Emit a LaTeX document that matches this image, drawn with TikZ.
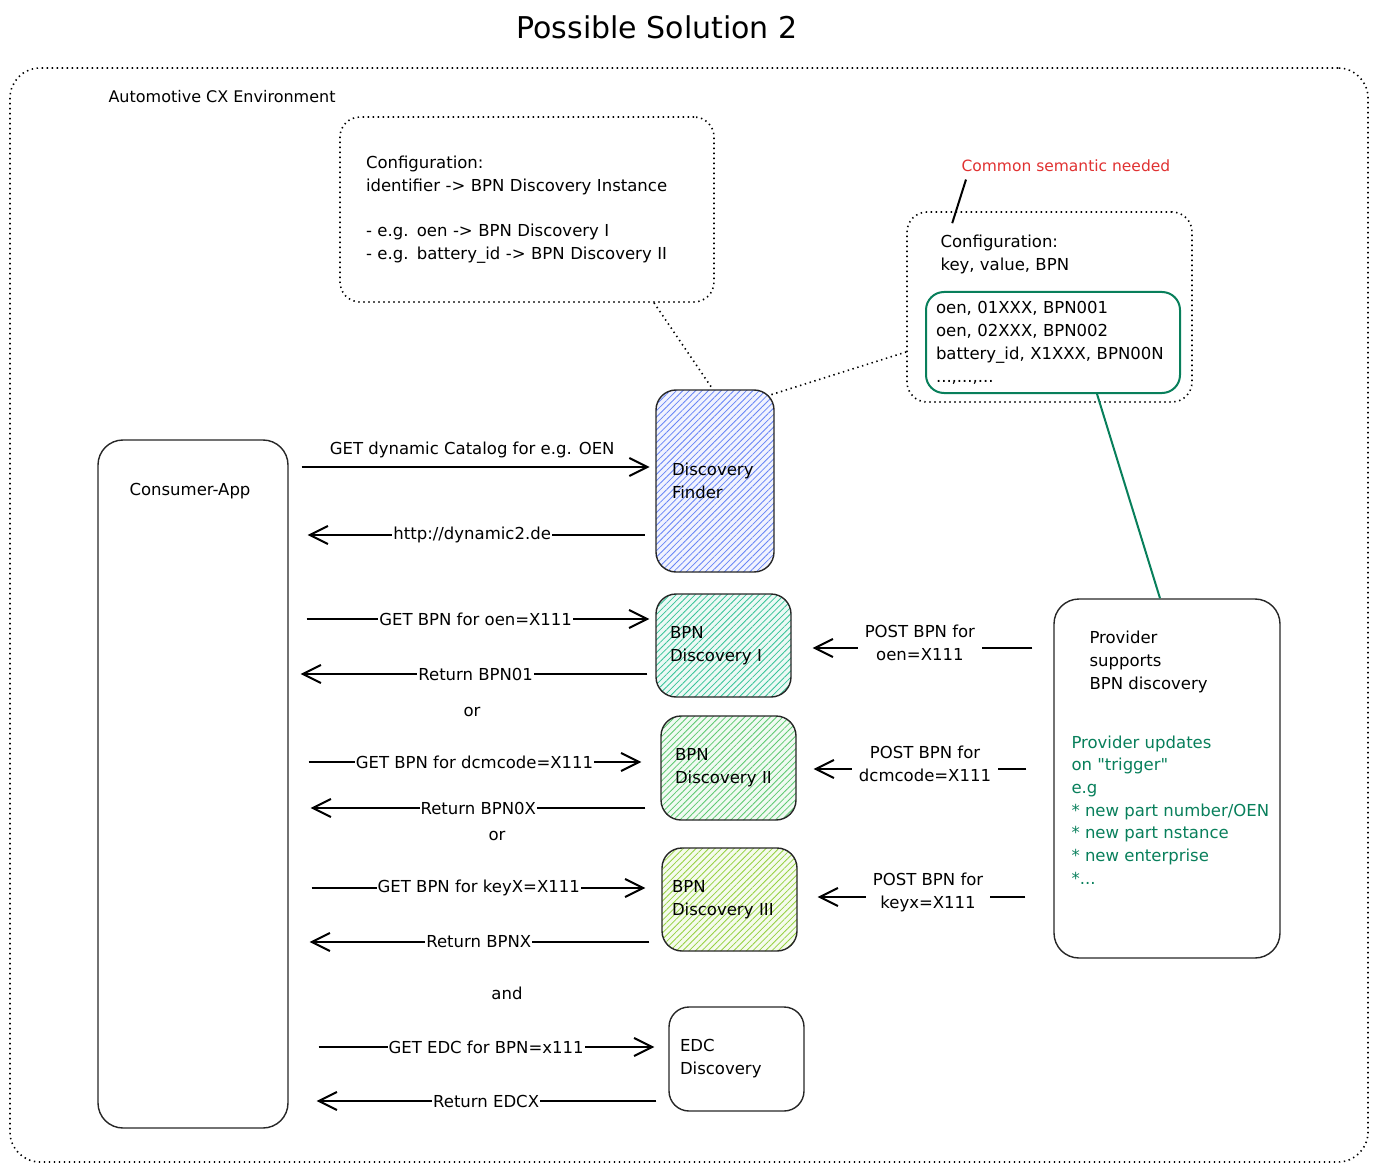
\documentclass[tikz,border=0pt]{standalone}
\usepackage{fontspec}
\setmainfont[Ligatures=TeXOff]{DejaVu Sans}
\usetikzlibrary{arrows.meta,patterns.meta,calc}

\definecolor{cxred}{HTML}{E03131}
\definecolor{cxgreen}{HTML}{087F5B}
\definecolor{hblue}{HTML}{4C6EF5}
\definecolor{hteal}{HTML}{12B886}
\definecolor{hgreen}{HTML}{40C057}
\definecolor{hlime}{HTML}{82C91E}

\begin{document}
\begin{tikzpicture}[x=1pt,y=-1pt,
  font=\fontsize{16.5}{23}\selectfont,
  box/.style={draw=black!85, line width=1.4pt, rounded corners=20pt, align=left, inner xsep=16pt, inner ysep=0pt},
  dotbox/.style={draw=black, line width=1.6pt, dash pattern=on 1.4pt off 3.6pt, rounded corners=25pt},
  dotline/.style={draw=black, line width=1.6pt, dash pattern=on 1.4pt off 3.6pt},
  arr/.style={line width=2pt, -{Straight Barb[length=18pt,width=18pt]}},
  lab/.style={fill=white, inner sep=1pt},
  postlab/.style={fill=white, inner xsep=7pt, inner ysep=1pt, align=center, yshift=5pt},
  hatch/.style={preaction={fill=#1!8}, pattern={Lines[angle=45,distance=4.5pt,line width=0.8pt]}, pattern color=#1!85},
]
\useasboundingbox (0,0) rectangle (1377,1169);

% title
\node (title) at (657,27) {\fontsize{30}{34}\selectfont Possible Solution 2};

% environment frame
\node[dotbox, rounded corners=30pt, minimum width=1358pt, minimum height=1094pt] (env) at (689,615) {};
\node[anchor=west, font=\fontsize{16}{20}\selectfont] (envlbl) at (105,97) {Automotive CX Environment};

% configuration 1
\node[dotbox, rounded corners=20pt, minimum width=374pt, minimum height=185pt, text width=322pt, align=left, inner xsep=26pt] (cfg1) at (527,209.5)
  {Configuration:\\identifier -> BPN Discovery Instance\\[22pt]- e.g. oen -> BPN Discovery I\\- e.g. battery\_id -> BPN Discovery II};

% configuration 2
\node[text=cxred, anchor=west, font=\fontsize{15.5}{20}\selectfont] (sem) at (958,166) {Common semantic needed};
\node[dotbox, rounded corners=20pt, minimum width=285pt, minimum height=190pt] (cfg2) at (1049.5,307) {};
\node[anchor=west, align=left] (cfg2lbl) at (937,254) {Configuration:\\key, value, BPN};
\node[draw=cxgreen, line width=2pt, rounded corners=18pt, minimum width=254pt, minimum height=101pt, text width=234pt, align=left, inner xsep=10pt, inner ysep=0pt] (tbl) at (1053,342.5)
  {oen, 01XXX, BPN001\\oen, 02XXX, BPN002\\battery\_id, X1XXX, BPN00N\\...,...,...};
\draw[line width=2pt] ($(sem.south west)+(8,4)$) -- ($(cfg2.north west)+(46,12)$);

% main boxes
\node[box, hatch=hblue, minimum width=118pt, minimum height=182pt, text width=86pt] (finder) at (715,481) {Discovery\\Finder};
\node[box, hatch=hteal, minimum width=135pt, minimum height=103pt, text width=107pt, inner xsep=14pt] (bpn1) at (723.5,645.5) {BPN\\Discovery I};
\node[box, hatch=hgreen, minimum width=135pt, minimum height=104pt, text width=107pt, inner xsep=14pt] (bpn2) at (728.5,768) {BPN\\Discovery II};
\node[box, hatch=hlime, minimum width=135pt, minimum height=103pt, text width=115pt, inner xsep=10pt] (bpn3) at (729.5,899.5) {BPN\\Discovery III};
\node[box, minimum width=135pt, minimum height=104pt, text width=113pt, inner xsep=11pt] (edc) at (736.5,1059) {EDC\\Discovery};

\node[box, rounded corners=25pt, minimum width=190pt, minimum height=688pt] (consumer) at (193,784) {};
\node (conslbl) at (190,491) {Consumer-App};

\node[box, rounded corners=25pt, minimum width=226pt, minimum height=359pt] (prov) at (1167,778.5) {};
\node[anchor=west, align=left] (provlbl) at (1086,662) {Provider\\supports\\BPN discovery};
\node[anchor=west, align=left, text=cxgreen, font=\fontsize{16.5}{22.7}\selectfont] (provnote) at (1068,810)
  {Provider updates\\on "trigger"\\e.g\\* new part number/OEN\\* new part nstance\\* new enterprise\\*...};

% dotted and green links
\draw[dotline] ($(cfg1.south)+(127,0)$) -- ($(finder.north)+(-2,0)$);
\draw[dotline] ($(finder.north east)+(-3,5)$) -- ($(cfg2.west)+(0,45)$);
\draw[cxgreen, line width=2pt] ($(tbl.south)+(44,0)$) -- ($(prov.north)+(-7,0)$);

% consumer <-> services
\draw[arr, shorten <=13pt, shorten >=6pt] (consumer.east |- 0,467) -- (finder.west |- 0,467)
  node[above=5pt, midway] (l1) {GET dynamic Catalog for e.g. OEN};
\draw[arr, shorten <=11pt, shorten >=19pt] (finder.west |- 0,535) -- (consumer.east |- 0,535)
  node[lab, midway] (l2) {http://dynamic2.de};

\draw[arr, shorten <=18pt, shorten >=6pt] (consumer.east |- 0,619) -- (bpn1.west |- 0,619)
  node[lab, pos=0.51] (l3) {GET BPN for oen=X111};
\draw[arr, shorten <=8pt, shorten >=12pt] (bpn1.west |- 0,674) -- (consumer.east |- 0,674)
  node[lab, pos=0.49] (l4) {Return BPN01};
\node (or1) at (472,712) {or};

\draw[arr, shorten <=20pt, shorten >=19pt] (consumer.east |- 0,762) -- (bpn2.west |- 0,762)
  node[lab, pos=0.5] (l5) {GET BPN for dcmcode=X111};
\draw[arr, shorten <=15pt, shorten >=22pt] (bpn2.west |- 0,808) -- (consumer.east |- 0,808)
  node[lab, pos=0.49] (l6) {Return BPN0X};
\node (or2) at (497,836) {or};

\draw[arr, shorten <=23pt, shorten >=16pt] (consumer.east |- 0,888) -- (bpn3.west |- 0,888)
  node[lab, pos=0.51] (l7) {GET BPN for keyX=X111};
\draw[arr, shorten <=12pt, shorten >=21pt] (bpn3.west |- 0,942) -- (consumer.east |- 0,942)
  node[lab, pos=0.49] (l8) {Return BPNX};
\node (and) at (507,993) {and};

\draw[arr, shorten <=30pt, shorten >=14pt] (consumer.east |- 0,1047) -- (edc.west |- 0,1047)
  node[lab, pos=0.52] (l9) {GET EDC for BPN=x111};
\draw[arr, shorten <=12pt, shorten >=28pt] (edc.west |- 0,1101) -- (consumer.east |- 0,1101)
  node[lab, pos=0.48] (l10) {Return EDCX};

% provider -> BPN discovery
\draw[arr, shorten <=21pt, shorten >=21pt] (prov.west |- 0,648) -- (bpn1.east |- 0,648)
  node[postlab, pos=0.51] (p1) {POST BPN for\\oen=X111};
\draw[arr, shorten <=27pt, shorten >=17pt] (prov.west |- 0,769) -- (bpn2.east |- 0,769)
  node[postlab, pos=0.5] (p2) {POST BPN for\\dcmcode=X111};
\draw[arr, shorten <=28pt, shorten >=20pt] (prov.west |- 0,897) -- (bpn3.east |- 0,897)
  node[postlab, pos=0.49] (p3) {POST BPN for\\keyx=X111};
\end{tikzpicture}
\end{document}
